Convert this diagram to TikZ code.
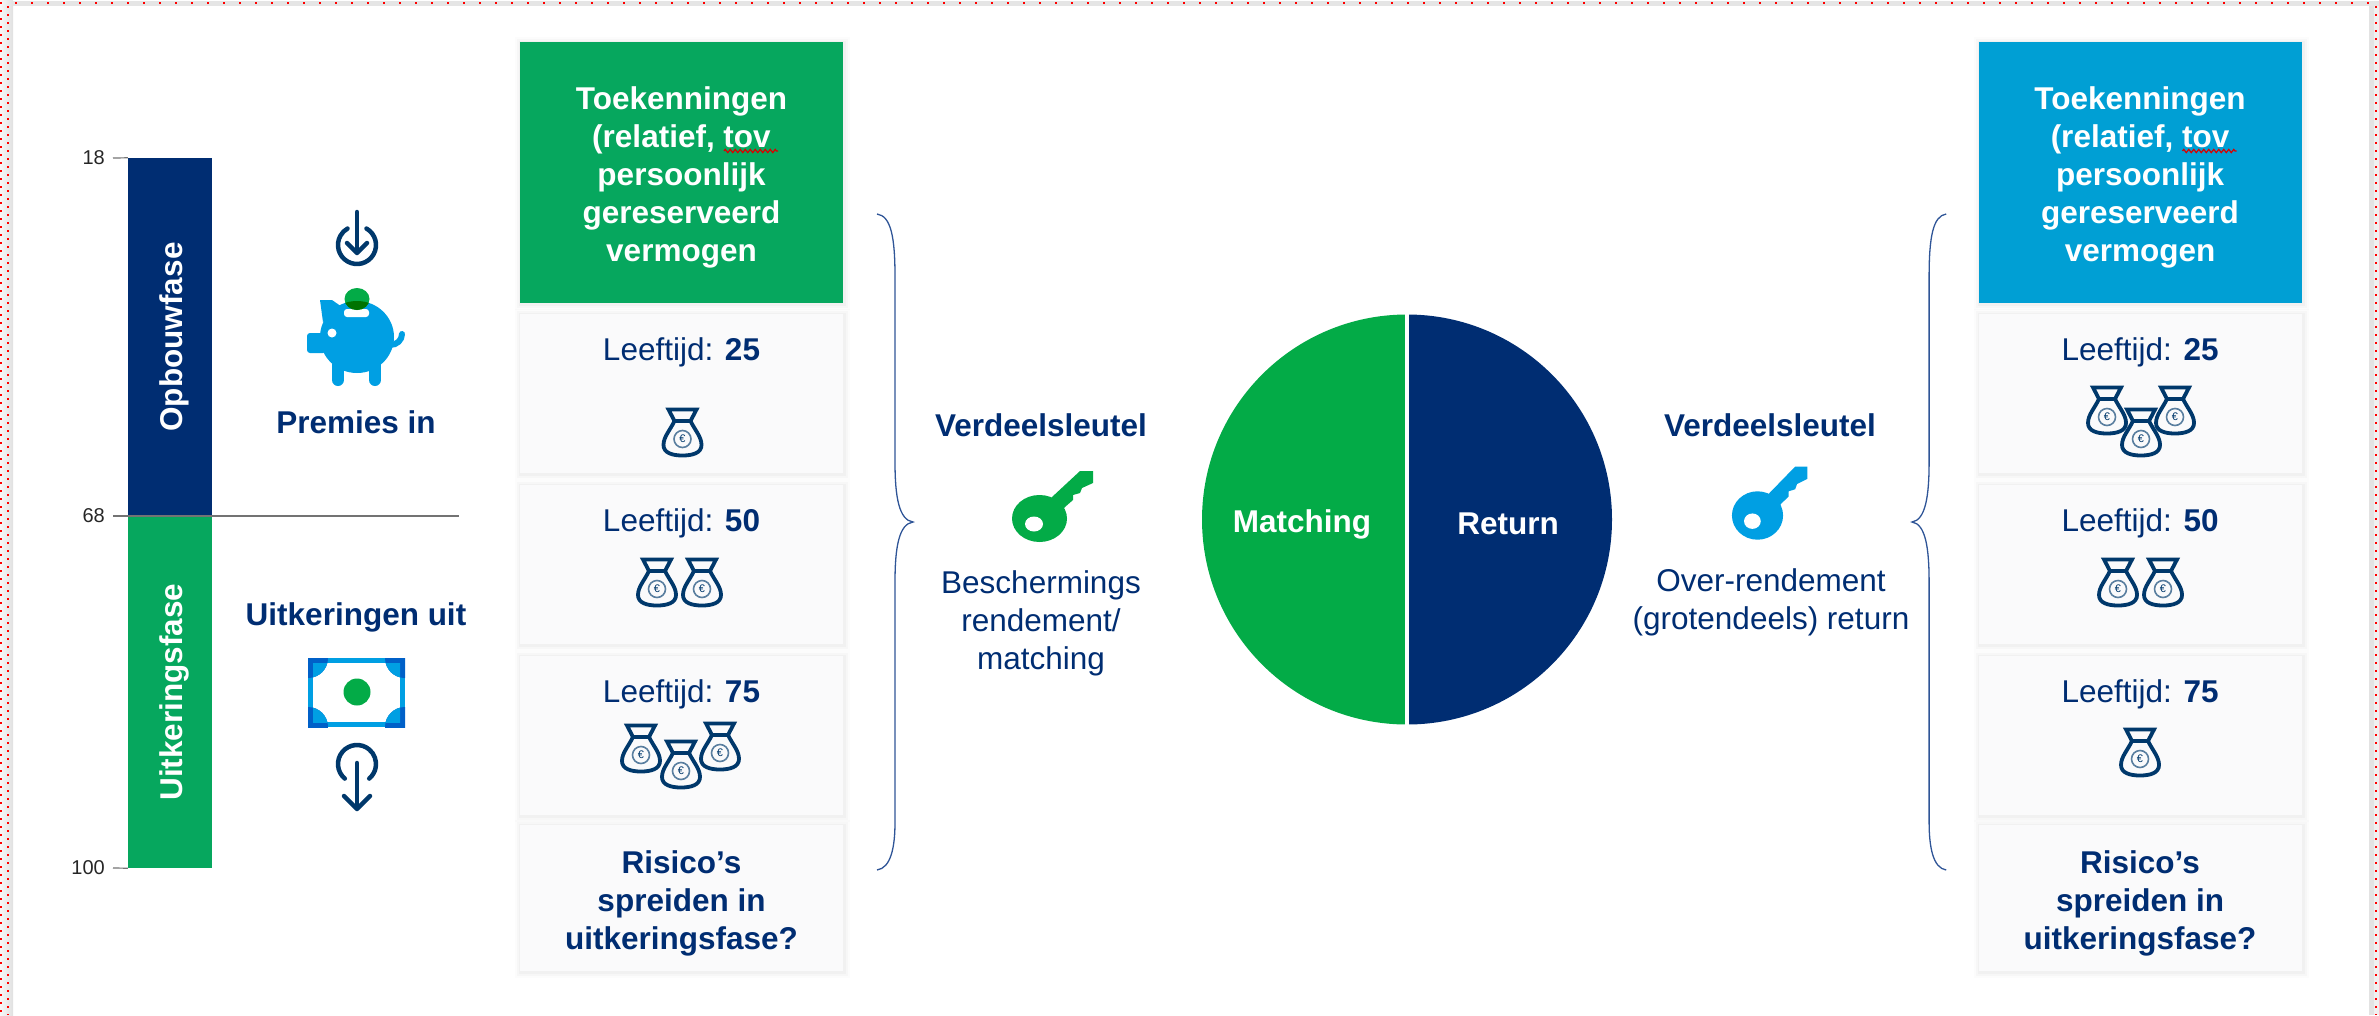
\documentclass[tikz,border=0pt]{standalone}
\usepackage{fontspec}
\setmainfont{Liberation Sans}
\usetikzlibrary{positioning,decorations.pathmorphing}
\definecolor{navy}{HTML}{002D72}
\definecolor{boxgreen}{HTML}{06A75E}
\definecolor{boxblue}{HTML}{009FD4}
\definecolor{piegreen}{HTML}{03AB47}
\definecolor{keyblue}{HTML}{009FE3}
\definecolor{billdark}{HTML}{0060C8}
\definecolor{iconnavy}{HTML}{00386B}
\definecolor{cardgray}{HTML}{FAFAFB}
\definecolor{bracecol}{HTML}{2F5597}
\tikzset{
	bigtext/.style={font=\fontsize{31.5}{38}\selectfont,align=center,inner sep=0pt},
	boldtext/.style={font=\fontsize{31.5}{38}\selectfont\bfseries,align=center,inner sep=0pt},
	softcard/.style={rectangle,inner sep=0pt,minimum width=323pt,
		preaction={draw=black,opacity=.012,line width=12pt,transform canvas={xshift=1pt,yshift=-1pt}},
		preaction={draw=black,opacity=.018,line width=8pt,transform canvas={xshift=1pt,yshift=-1pt}},
		preaction={draw=black,opacity=.025,line width=4pt,transform canvas={xshift=1pt,yshift=-1pt}}},
	agecard/.style={softcard,fill=cardgray,minimum height=159pt},
	agetext/.style={bigtext,text=navy},
	headcard/.style={softcard,minimum height=261pt},
	riskcard/.style={softcard,fill=cardgray,minimum height=146pt},
	barpart/.style={rectangle,inner sep=0pt,minimum height=84pt,rotate=90,text=white,font=\fontsize{31.5}{38}\selectfont\bfseries},
	agelabel/.style={anchor=east,inner ysep=0pt,inner xsep=8pt,font=\fontsize{20}{24}\selectfont,text=black!85},
	tickline/.style={draw=black!55,line width=1.2pt},
	squiggle/.style={draw=red!85!black,line width=1.2pt,decorate,decoration={zigzag,segment length=5pt,amplitude=1.6pt}},
	reddots/.style={draw=red,line width=2pt},
	iconline/.style={draw=iconnavy,line width=4.5pt,line cap=round,line join=miter},
	moneybag/.pic={
		\draw[draw=iconnavy,fill=cardgray,line width=3.8pt,line join=round] (-8,-18) .. controls (-13,-8) and (-19,-2) .. (-19,6) .. controls (-19,14) and (-10,16.5) .. (0,16.5) .. controls (10,16.5) and (19,14) .. (19,6) .. controls (19,-2) and (13,-8) .. (8,-18) -- cycle;
		\draw[draw=iconnavy,fill=cardgray,line width=3.8pt,line join=miter] (-14,-29.5) -- (14,-29.5) -- (8,-18) -- (-8,-18) -- cycle;
		\draw[draw=iconnavy!65,line width=1.6pt] (0,0) circle (8.5);
		\node[inner sep=0pt,text=iconnavy,font=\fontsize{11}{11}\selectfont] (euro) at (0,0) {€};
	},
	keyicon/.pic={
		\path[pic actions] (12.5,-21.5) -- (40.5,-47.5) -- (53.5,-47.5) -- (53.5,-35.5) -- (42.5,-30.5) -- (40.5,-25.5) -- (33.5,-23.5) -- (33.5,-18.5) -- (25.5,-11.5) -- (20,-5) -- (0,0) -- cycle;
		\path[pic actions] (0,0) ellipse (27.5 and 23.5);
		\fill[white] (-5.5,5.5) ellipse (9 and 7.5);
	},
	bracket/.pic={
		\draw[draw=bracecol,line width=1.3pt] (-36,-308) .. controls (-22,-306) and (-18,-285) .. (-18,-245) -- (-18,-60) .. controls (-18,-25) and (-14,-2) .. (0,0) .. controls (-14,2) and (-18,25) .. (-18,60) -- (-18,300) .. controls (-18,325) and (-22,346) .. (-36,348);
	}
}
\begin{document}
\begin{tikzpicture}[x=1pt,y=-1pt]
	\useasboundingbox (0,0) rectangle (2379,1015);
	\shade[left color=black!3,right color=black!12] (0,0) rectangle (13,1015);
	\fill[black!10] (13,1) rectangle (2379,6);
	\fill[black!11] (2369,6) rectangle (2374,1015);
	\fill[black!6] (2374,6) rectangle (2379,1015);
	\draw[reddots,dash pattern=on 2pt off 6pt] (1,2) -- (1,1015);
	\draw[reddots,dash pattern=on 2pt off 6pt] (8,6) -- (8,1015);
	\draw[reddots,dash pattern=on 2pt off 14pt] (15,3) -- (2379,3);
	\draw[reddots,dash pattern=on 2pt off 6pt] (2376,6) -- (2376,1015);

	\node[barpart,fill=navy,minimum width=358pt] (barup) at (170,337) {\raisebox{-12pt}[0pt][0pt]{Opbouwfase}};
	\node[barpart,fill=boxgreen,minimum width=352pt] (bardown) at (170,692) {\raisebox{-12pt}[0pt][0pt]{Uitkeringsfase}};
	\node[agelabel] (age18) at (113,158) {18};
	\node[agelabel] (age68) at (113,516) {68};
	\node[agelabel] (age100) at (113,868) {100};
	\coordinate (phaseend) at (459,516);
	\draw[tickline] (age18.east) -- (barup.north east);
	\draw[tickline] (age68.east) -- (phaseend);
	\draw[tickline] (age100.east) -- (bardown.north west);

	\draw[iconline] (357,245) ++(-60:19) arc (-60:240:19);
	\draw[iconline] (357,212) -- (357,251);
	\draw[iconline,line join=round] (347,243) -- (357,253) -- (367,243);
	\fill[keyblue] (320,300) -- (332,300) -- (345,309) -- (323,322) -- cycle;
	\fill[keyblue,rounded corners=3pt] (307,333) rectangle (326,353);
	\draw[keyblue,line width=12pt,line cap=round] (338,365) -- (338,380);
	\draw[keyblue,line width=12pt,line cap=round] (375,365) -- (375,380);
	\draw[keyblue,line width=6pt,line cap=round] (390,345) .. controls (397,345) and (402,340) .. (402,334);
	\fill[keyblue] (357,337) ellipse (37 and 36);
	\fill[white] (332,333) circle (4.5);
	\fill[white,rounded corners=3pt] (344,309) rectangle (369,317);
	\fill[piegreen] (357,299) ellipse (12.5 and 11);
	\begin{scope}
		\clip (357,337) ellipse (37 and 36);
		\fill[green!45!black] (357,299) ellipse (12.5 and 11);
	\end{scope}
	\node[boldtext,text=navy] (premies) at (356,422) {Premies in};
	\node[boldtext,text=navy] (uitkering) at (356,617) {Uitkeringen uit};

	\draw[keyblue,line width=5pt] (310.5,660.5) rectangle (402.5,724.5);
	\foreach \cx/\cy in {308/658,405/658,308/727,405/727}{
		\begin{scope}
			\clip (308,658) rectangle (405,727);
			\fill[billdark] (\cx,\cy) circle (20);
			\clip (313,663) rectangle (400,722);
			\fill[keyblue] (\cx,\cy) circle (20);
		\end{scope}
	}
	\fill[piegreen] (357,692) circle (13.5);
	\draw[iconline] (357,764) ++(130:19) arc (130:410:19);
	\draw[iconline] (357,763) -- (357,808);
	\draw[iconline,line join=round] (344,796) -- (357,809) -- (370,796);

	\foreach \colx/\sfx in {681.5/l,2140/r}{
		\node[agecard] (card25\sfx) at (\colx,393.5) {};
		\node[agecard] (card50\sfx) at (\colx,564.5) {};
		\node[agecard] (card75\sfx) at (\colx,735.5) {};
		\node[riskcard] (risk\sfx) at (\colx,898) {};
		\node[boldtext,text=navy] (risktext\sfx) at ([yshift=-5pt]risk\sfx.center) {Risico’s\\spreiden in\\uitkeringsfase?};
		\foreach \age in {25,50,75}{
			\node[agetext,anchor=center] (text\age\sfx) at ([yshift=-38.5pt]card\age\sfx.north) {Leeftijd: \textbf{\age}};
		}
	}
	\node[headcard,fill=boxgreen] (headl) at (681.5,172.5) {};
	\node[headcard,fill=boxblue] (headr) at (2140,172.5) {};
	\foreach \sfx in {l,r}{
		\node[boldtext,text=white] (headtext\sfx) at ([yshift=-5pt]head\sfx.center) {Toekenningen\\(relatief, tov\\persoonlijk\\gereserveerd\\vermogen};
		\draw[squiggle] ([shift={(42.5,-21.5)}]head\sfx.center) -- ++(54,0);
	}

	\pic at (682.5,439) {moneybag};
	\pic at (657,589) {moneybag};
	\pic at (702,589) {moneybag};
	\pic at (641,755) {moneybag};
	\pic at (720,753) {moneybag};
	\pic at (681,771) {moneybag};
	\pic at (2107,417) {moneybag};
	\pic at (2175,417) {moneybag};
	\pic at (2141,439) {moneybag};
	\pic at (2118,589) {moneybag};
	\pic at (2163,589) {moneybag};
	\pic at (2140,759) {moneybag};

	\pic at (913,522) {bracket};
	\pic[xscale=-.95] at (1912,522) {bracket};

	\node[boldtext,text=navy] (keyl) at (1041,425) {Verdeelsleutel};
	\pic[fill=piegreen] at (1039.5,518.5) {keyicon};
	\node[agetext,anchor=north] (schutl) at (1041,570) {Beschermings\\rendement/\\matching};
	\node[boldtext,text=navy] (keyr) at (1770,425) {Verdeelsleutel};
	\pic[fill=keyblue,xscale=.93,yscale=1.03] at (1757.5,515.5) {keyicon};
	\node[agetext,anchor=north] (schutr) at (1771,568) {Over-rendement\\(grotendeels) return};

	\fill[piegreen] (1407,314.5) arc (-90:-270:205) -- cycle;
	\fill[navy] (1407,314.5) arc (-90:90:205) -- cycle;
	\coordinate (pietop) at (1406.5,312);
	\coordinate (piebottom) at (1406.5,727);
	\draw[white,line width=4pt] (pietop) -- (piebottom);
	\node[boldtext,text=white] (matching) at (1302,524) {Matching};
	\node[boldtext,text=white] (return) at (1508,524) {Return};
\end{tikzpicture}
\end{document}
